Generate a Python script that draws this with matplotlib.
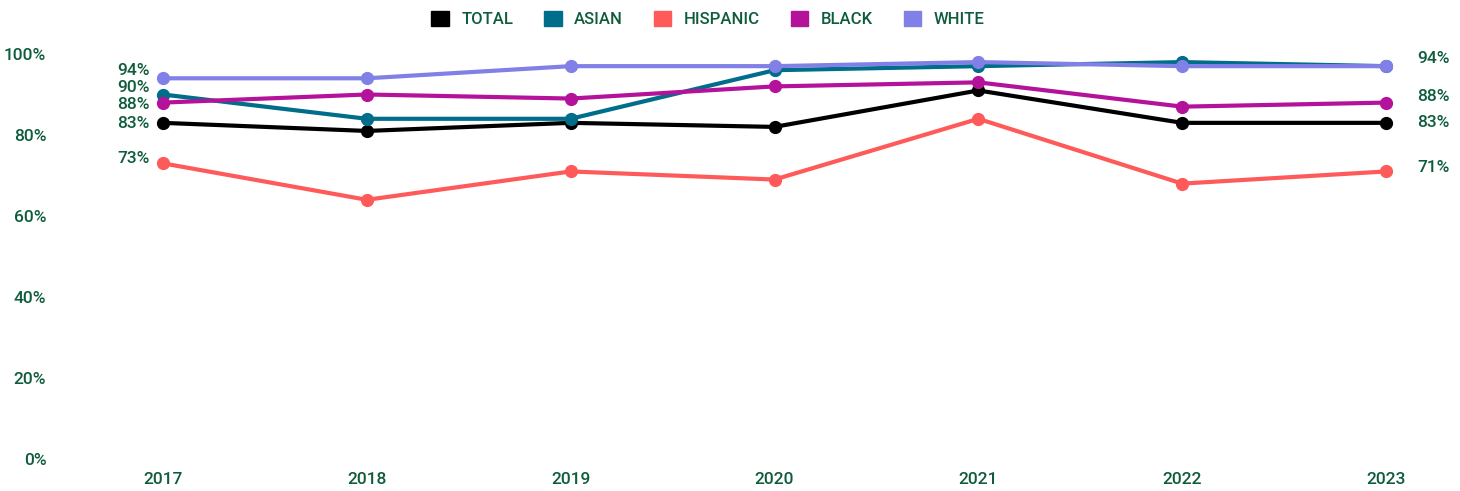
import matplotlib.pyplot as plt
from matplotlib.patches import Patch

years = [2017, 2018, 2019, 2020, 2021, 2022, 2023]
series_names = ["TOTAL", "ASIAN", "HISPANIC", "BLACK", "WHITE"]
total = [83, 81, 83, 82, 91, 83, 83]
asian = [90, 84, 84, 96, 97, 98, 97]
hispanic = [73, 64, 71, 69, 84, 68, 71]
black = [88, 90, 89, 92, 93, 87, 88]
white = [94, 94, 97, 97, 98, 97, 97]
colors = ["#000000", "#006d8a", "#ff5a5a", "#b5129b", "#8080e6"]

# end labels (text, y position for display)
left_labels = ["94%", "90%", "88%", "83%", "73%"]
left_label_y = [96.0, 91.8, 87.6, 82.9, 74.3]
right_labels = ["94%", "88%", "83%", "71%"]
right_label_y = [98.8, 89.4, 83.0, 71.9]

y_ticks = [0, 20, 40, 60, 80, 100]
text_color = "#0f5c3c"

plt.rcParams['font.family'] = ['Roboto', 'DejaVu Sans']

fig = plt.figure(figsize=(14.6, 4.91), dpi=100)
ax = fig.add_axes([163 / 1460, 1 - 459 / 491, (1386 - 163) / 1460, (459 - 54) / 491])

for vals, c in zip([total, asian, hispanic, black, white], colors):
    ax.plot(years, vals, color=c, lw=3, marker='o', markersize=8.5,
            solid_capstyle='round', clip_on=False)

for t, y in zip(left_labels, left_label_y):
    ax.text(2017 - 0.065, y, t, ha='right', va='center', fontsize=12.5,
            fontweight='medium', color=text_color)
for t, y in zip(right_labels, right_label_y):
    ax.text(2023 + 0.155, y, t, ha='left', va='center', fontsize=12.5,
            fontweight='medium', color=text_color)

ax.set_xlim(2017, 2023)
ax.set_ylim(0, 100)
ax.set_xticks(years)
ax.set_xticklabels([str(y) for y in years])
ax.set_yticks(y_ticks)
ax.set_yticklabels([f"{v}%" for v in y_ticks])
ax.tick_params(axis='both', length=0, labelsize=12.5, labelcolor=text_color)
ax.tick_params(axis='y', pad=84)
ax.tick_params(axis='x', pad=9)
for lab in ax.get_xticklabels() + ax.get_yticklabels():
    lab.set_fontweight('medium')
for s in ax.spines.values():
    s.set_visible(False)

handles = [Patch(facecolor=c, edgecolor=c, label=n) for n, c in zip(series_names, colors)]
leg = fig.legend(handles=handles, loc='center', bbox_to_anchor=(0.485, 1 - 19 / 491),
                 ncol=5, frameon=False, fontsize=12, handlelength=1.05, handleheight=1.05,
                 columnspacing=1.85, handletextpad=0.75)
for t in leg.get_texts():
    t.set_color(text_color)
    t.set_fontweight('medium')

fig.savefig("out.png", dpi=100)
